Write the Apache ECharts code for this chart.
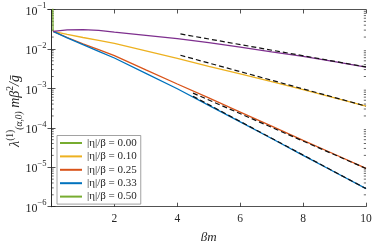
<!DOCTYPE html>
<html><head><meta charset="utf-8">
<script src="https://cdn.jsdelivr.net/npm/echarts@6/dist/echarts.min.js"></script>
<style>html,body{margin:0;padding:0;background:#fff}#c{width:374px;height:241px}</style>
</head><body><div id="c"></div>
<script>
// ---- data ----
const xs = [0.05, 0.5, 1, 1.5, 2, 3, 4, 5, 6, 7, 8, 9, 10];
const eta000 = [[0.05, 0.028], [0.04, 0.12]];
const eta010 = [0.028, 0.0234, 0.0195, 0.0164, 0.0138, 0.00891, 0.00575, 0.00363, 0.00234, 0.00148, 0.000933, 0.000575, 0.000355];
const eta025 = [0.028, 0.0195, 0.0135, 0.00955, 0.00676, 0.00295, 0.00129, 5.75e-4, 2.51e-4, 1.10e-4, 4.79e-5, 2.14e-5, 9.33e-6];
const eta033 = [0.028, 0.0191, 0.0129, 0.00871, 0.00589, 0.0024, 9.77e-4, 3.72e-4, 1.41e-4, 5.37e-5, 2.0e-5, 7.59e-6, 2.88e-6];
const eta050 = [0.028, 0.0305, 0.0309, 0.0295, 0.0266, 0.0221, 0.0182, 0.0145, 0.0111, 0.00841, 0.00646, 0.00479, 0.00344];
const asym050 = [[4.1, 0.024], [10, 0.0035]];
const asym010 = [[4.1, 0.00692], [10, 0.000355]];
const asym025 = [[4.5, 7.59e-4], [10, 9.33e-6]];
const asym033 = [[4.5, 6.31e-4], [10, 2.88e-6]];
const names = ['|η|/β = 0.00', '|η|/β = 0.10', '|η|/β = 0.25', '|η|/β = 0.33', '|η|/β = 0.50'];
const xTicks = [0, 2, 4, 6, 8, 10];
const yTickExp = [-6, -5, -4, -3, -2, -1];

const C = {green: '#77AC30', yellow: '#EDB120', orange: '#D95319', blue: '#0072BD', purple: '#7E2F8E'};
const pair = arr => xs.map((x, i) => [x, arr[i]]);
const serif = 'Liberation Serif';
const ink = '#262626';

const chart = echarts.init(document.getElementById('c'), null, {renderer: 'canvas'});
const lineS = (name, data, color) => ({
  name, type: 'line', data, showSymbol: false, symbol: 'none', smooth: false, clip: true,
  lineStyle: {color, width: 1.3}, itemStyle: {color}, z: 3, animation: false
});
const dashS = (data) => ({
  type: 'line', data, symbol: 'none', clip: true,
  lineStyle: {color: '#111', width: 1.2, type: [5, 3]}, z: 4, animation: false
});

const yAxisBase = {
  type: 'log', logBase: 10, min: 1e-6, max: 1e-1,
  axisLine: {show: true, lineStyle: {color: ink, width: 0.8}},
  axisTick: {show: true, inside: true, length: 4, lineStyle: {color: ink, width: 0.8}},
  splitLine: {show: false}, minorTick: {show: false}
};
const xAxisBase = {
  type: 'value', min: 0, max: 10, interval: 2,
  axisLine: {show: true, onZero: false, lineStyle: {color: ink, width: 0.8}},
  axisTick: {show: true, inside: true, length: 4, lineStyle: {color: ink, width: 0.8}},
  splitLine: {show: false}
};

chart.setOption({
  animation: false,
  grid: {left: 51.5, right: 8, top: 9.5, bottom: 34.3, containLabel: false, outerBoundsMode: 'none'},
  xAxis: [
    Object.assign({}, xAxisBase, {
      position: 'bottom',
      name: 'βm', nameLocation: 'middle', nameGap: 24,
      nameTextStyle: {fontFamily: serif, fontStyle: 'italic', fontSize: 13, color: ink},
      axisLabel: {
        fontFamily: serif, fontSize: 11.5, color: ink, margin: 6,
        formatter: v => (v === xTicks[0] ? '' : String(v))
      }
    }),
    Object.assign({}, xAxisBase, {position: 'top', axisLabel: {show: false}})
  ],
  yAxis: [
    Object.assign({}, yAxisBase, {
      position: 'left',
      axisLabel: {
        margin: 5, color: ink,
        formatter: v => '{b|10}{e|−' + Math.round(-Math.log10(v)) + '}',
        rich: {
          b: {fontFamily: serif, fontSize: 12, color: ink, verticalAlign: 'bottom', lineHeight: 16},
          e: {fontFamily: serif, fontSize: 8.5, color: ink, verticalAlign: 'top', lineHeight: 16}
        }
      }
    }),
    Object.assign({}, yAxisBase, {position: 'right', axisLabel: {show: false}})
  ],
  legend: {
    show: true, orient: 'vertical', left: 57, top: 135.5,
    padding: [1.5, 4, 1.5, 3], itemGap: 1.4, itemWidth: 22, itemHeight: 2, icon: 'rect',
    backgroundColor: '#fff', borderColor: '#8a8a8a', borderWidth: 0.8,
    textStyle: {fontFamily: serif, fontSize: 11, color: ink, lineHeight: 12},
    data: [
      {name: names[0], itemStyle: {color: C.green}},
      {name: names[1], itemStyle: {color: C.yellow}},
      {name: names[2], itemStyle: {color: C.orange}},
      {name: names[3], itemStyle: {color: C.blue}},
      {name: names[4], itemStyle: {color: C.green}}
    ]
  },
  series: [
    lineS(names[0], eta000, C.green),
    lineS(names[1], pair(eta010), C.yellow),
    lineS(names[2], pair(eta025), C.orange),
    lineS(names[3], pair(eta033), C.blue),
    lineS(names[4], pair(eta050), C.purple),
    dashS(asym050), dashS(asym010), dashS(asym025), dashS(asym033)
  ]
});

// minor log ticks (2..9 within each decade), positioned by the axis scale; y-axis title
function addExtras() {
  const els = [];
  const xl = chart.convertToPixel({xAxisIndex: 0}, 0);
  const xr = chart.convertToPixel({xAxisIndex: 0}, 10);
  for (let k = 0; k < yTickExp.length - 1; k++) {
    for (let m = 2; m <= 9; m++) {
      const v = m * Math.pow(10, yTickExp[k]);
      const y = chart.convertToPixel({yAxisIndex: 0}, v);
      els.push({type: 'line', shape: {x1: xl, y1: y, x2: xl + 2.2, y2: y}, style: {stroke: ink, lineWidth: 0.7}, silent: true});
      els.push({type: 'line', shape: {x1: xr, y1: y, x2: xr - 2.2, y2: y}, style: {stroke: ink, lineWidth: 0.7}, silent: true});
    }
  }
  els.push({
    type: 'text', x: 15, y: 111, rotation: Math.PI / 2, silent: true,
    style: {
      text: '{l|λ}{sup|(1)}{sub|(α,0)}{m| mβ}{sup|2}{m|/ḡ}',
      align: 'center', verticalAlign: 'middle',
      rich: {
        l: {fontFamily: serif, fontStyle: 'italic', fontSize: 14, fill: ink, lineHeight: 19},
        m: {fontFamily: serif, fontStyle: 'italic', fontSize: 14, fill: ink, lineHeight: 19},
        sup: {fontFamily: serif, fontSize: 9.5, fill: ink, verticalAlign: 'top', lineHeight: 19},
        sub: {fontFamily: serif, fontStyle: 'italic', fontSize: 9.5, fill: ink, verticalAlign: 'bottom', lineHeight: 19}
      }
    }
  });
  chart.setOption({graphic: els});
}
addExtras();
</script></body></html>
